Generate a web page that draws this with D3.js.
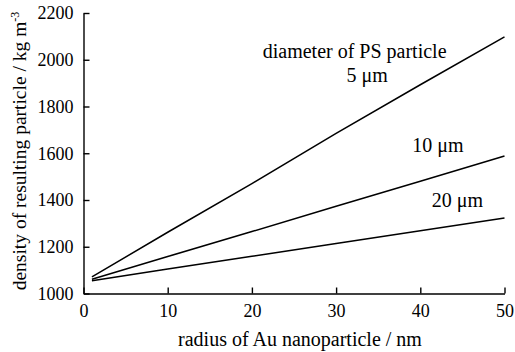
<!DOCTYPE html>
<html>
<head>
<meta charset="utf-8">
<script src="https://cdn.jsdelivr.net/npm/d3@7"></script>
<style>
  body { margin: 0; background: #fff; }
</style>
</head>
<body>
<svg id="chart" width="515" height="352"></svg>
<script>
// data
var radius = [1, 10, 20, 30, 40, 50];
var density5 = [1071, 1262, 1470, 1685, 1893, 2098];
var density10 = [1061, 1158, 1265, 1373, 1480, 1588];
var density20 = [1055, 1105, 1159, 1214, 1268, 1323];
var xTicks = [0, 10, 20, 30, 40, 50];
var yTicks = [1000, 1200, 1400, 1600, 1800, 2000, 2200];
var labelTexts = ["diameter of PS particle", "5 \u03bcm", "10 \u03bcm", "20 \u03bcm"];
var labelAt = [[32.2, 2008], [33.7, 1906], [42.1, 1606], [44.4, 1370]];

var serif = "'Liberation Serif', 'Times New Roman', Times, serif";
var svg = d3.select("#chart");

var x = d3.scaleLinear().domain([0, 50]).range([83.5, 504.5]);
var y = d3.scaleLinear().domain([1000, 2200]).range([293.5, 13]);

// axes, ticks point inward
var xAxis = svg.append("g")
    .attr("transform", "translate(0," + y(1000) + ")")
    .call(d3.axisBottom(x).tickValues(xTicks).tickFormat(d3.format("d"))
        .tickSizeInner(-6).tickSizeOuter(0).tickPadding(11));
var yAxis = svg.append("g")
    .attr("transform", "translate(" + x(0) + ",0)")
    .call(d3.axisLeft(y).tickValues(yTicks).tickFormat(d3.format("d"))
        .tickSizeInner(-6).tickSizeOuter(0).tickPadding(10));

[xAxis, yAxis].forEach(function(g) {
    g.attr("font-family", null);
    g.select(".domain").attr("stroke", "#000").attr("stroke-width", 1.4);
    g.selectAll(".tick line").attr("stroke", "#000").attr("stroke-width", 1.4);
    g.selectAll(".tick text")
        .style("font-family", serif)
        .style("font-size", "18px")
        .attr("fill", "#000");
});

//Lines
var line = d3.line()
    .x(function(d, i) { return x(radius[i]); })
    .y(function(d) { return y(d); });

[density5, density10, density20].forEach(function(series) {
    svg.append("path")
        .datum(series)
        .attr("fill", "none")
        .attr("stroke", "#000")
        .attr("stroke-width", 1.5)
        .attr("d", line);
});

//Annotations
labelTexts.forEach(function(t, i) {
    svg.append("text")
        .attr("x", x(labelAt[i][0]))
        .attr("y", y(labelAt[i][1]))
        .attr("text-anchor", "middle")
        .style("font-family", serif)
        .style("font-size", "20px")
        .text(t);
});

//Axis titles
svg.append("text")
    .attr("x", (x(0) + x(50)) / 2 + 6)
    .attr("y", 346)
    .attr("text-anchor", "middle")
    .style("font-family", serif)
    .style("font-size", "20px")
    .text("radius of Au nanoparticle / nm");

var yTitle = svg.append("text")
    .attr("transform", "translate(26," + 151 + ") rotate(-90)")
    .attr("text-anchor", "middle")
    .style("font-family", serif)
    .style("font-size", "19.5px");
yTitle.append("tspan").text("density of resulting particle / kg m");
yTitle.append("tspan")
    .attr("dy", -7)
    .style("font-size", "12px")
    .text("-3");
</script>
</body>
</html>
